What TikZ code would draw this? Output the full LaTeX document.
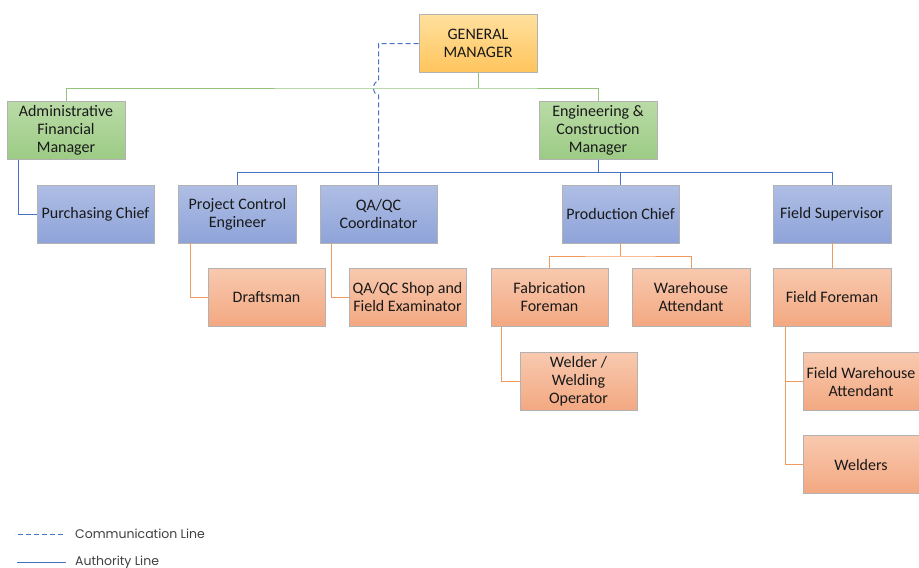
\documentclass[tikz,border=0pt]{standalone}
\usepackage{fontspec}
\setmainfont{Carlito}
\newfontfamily\legendfont{Poppins}
\definecolor{goldtop}{HTML}{FFE09E}
\definecolor{goldbot}{HTML}{FFC45C}
\definecolor{greentop}{HTML}{BADBA6}
\definecolor{greenbot}{HTML}{9CCB85}
\definecolor{bluetop}{HTML}{AFBEE4}
\definecolor{bluebot}{HTML}{8EA3D9}
\definecolor{peachtop}{HTML}{F8C9AF}
\definecolor{peachbot}{HTML}{F3A881}
\definecolor{grnline}{HTML}{94C47A}
\definecolor{bluline}{HTML}{4472C4}
\definecolor{orgline}{HTML}{F19A5E}
\begin{document}
\begin{tikzpicture}[x=1pt,y=-1pt]
\tikzstyle{every node}+=[inner sep=1pt, align=center, text=black!90, font=\fontsize{16}{18}\selectfont]
\tikzstyle{box}=[draw=black!30, line width=0.7pt, minimum width=118, minimum height=58]
\tikzstyle{gm box}=[box, top color=goldtop, bottom color=goldbot]
\tikzstyle{mgr box}=[box, top color=greentop, bottom color=greenbot]
\tikzstyle{chief box}=[box, top color=bluetop, bottom color=bluebot]
\tikzstyle{staff box}=[box, top color=peachtop, bottom color=peachbot]
\tikzstyle{grn}=[grnline, line width=1pt]
\tikzstyle{auth}=[bluline, line width=1pt]
\tikzstyle{comm}=[bluline, line width=1pt, dash pattern=on 5pt off 3pt]
\tikzstyle{org}=[orgline, line width=1pt]
\tikzstyle{legend}=[text=black!75, font=\legendfont\fontsize{12.5}{14}\selectfont]
\useasboundingbox (0,0) rectangle (919,568);

\coordinate (gbus) at (0,88);
\coordinate (bbus) at (0,172);
\coordinate (obus) at (0,256);

\node[gm box] (gm) at (478,43.5) {GENERAL\\MANAGER};
\node[mgr box] (afm) at (66,130.5) {Administrative\\Financial\\Manager};
\node[mgr box] (ecm) at (598,130.5) {Engineering \&\\Construction\\Manager};

\node[chief box, minimum width=117] (pur) at (95.5,214) {Purchasing Chief};
\node[chief box] (pce) at (237.5,214) {Project Control\\Engineer};
\node[chief box, minimum width=117] (qaqc) at (378.5,214) {QA/QC\\Coordinator};
\node[chief box, minimum width=117] (prod) at (620.5,214) {Production Chief};
\node[chief box] (fsup) at (832,214) {Field Supervisor};

\node[staff box, minimum width=117] (draft) at (266.5,297) {Draftsman};
\node[staff box, minimum width=117] (shop) at (407.5,297) {QA/QC Shop and\\Field Examinator};
\node[staff box, minimum width=117] (fab) at (549.5,297) {Fabrication\\Foreman};
\node[staff box] (ware) at (691,297) {Warehouse\\Attendant};
\node[staff box, minimum width=117] (weld) at (578.5,381.5) {Welder /\\Welding\\Operator};
\node[staff box] (ffor) at (832,297) {Field Foreman};
\node[staff box, minimum width=116] (fware) at (861,381.5) {Field Warehouse\\Attendant};
\node[staff box, minimum width=116] (welders) at (861,464.5) {Welders};

\draw[grn] (gm.south) -- (gm.south |- gbus);
\draw[grn] (afm.north) |- (gm.south |- gbus) -| (ecm.north);

\draw[comm] (gm.west) -| ([yshift=7]qaqc.north |- gbus) arc[start angle=270, end angle=90, x radius=5, y radius=7] -- (qaqc.north |- bbus);

\draw[auth] (ecm.south) -- (ecm.south |- bbus);
\draw[auth] (pce.north |- bbus) -- (fsup.north |- bbus);
\foreach \n in {pce,qaqc,prod,fsup}
  \draw[auth] (\n.north) -- (\n.north |- bbus);
\draw[auth] ([xshift=12]afm.south west) |- (pur.west);

\draw[org] ([xshift=12]pce.south west) |- (draft.west);
\draw[org] ([xshift=12]qaqc.south west) |- (shop.west);
\draw[org] (prod.south) -- (prod.south |- obus);
\draw[org] (fab.north) |- (prod.south |- obus) -| (ware.north);
\draw[org] ([xshift=11]fab.south west) |- (weld.west);
\draw[org] (fsup.south) -- (ffor.north);
\draw[org] ([xshift=13]ffor.south west) |- (welders.west);
\draw[org] ([xshift=13]ffor.south west) |- (fware.west);

\node[legend, anchor=west] (lcomm) at (74,534) {Communication Line};
\node[legend, anchor=west] (lauth) at (74,562) {Authority Line};
\draw[comm] ([xshift=-11]lcomm.west) -- ([xshift=-59]lcomm.west);
\draw[auth] ([xshift=-8]lauth.west) -- ([xshift=-57]lauth.west);
\end{tikzpicture}
\end{document}
